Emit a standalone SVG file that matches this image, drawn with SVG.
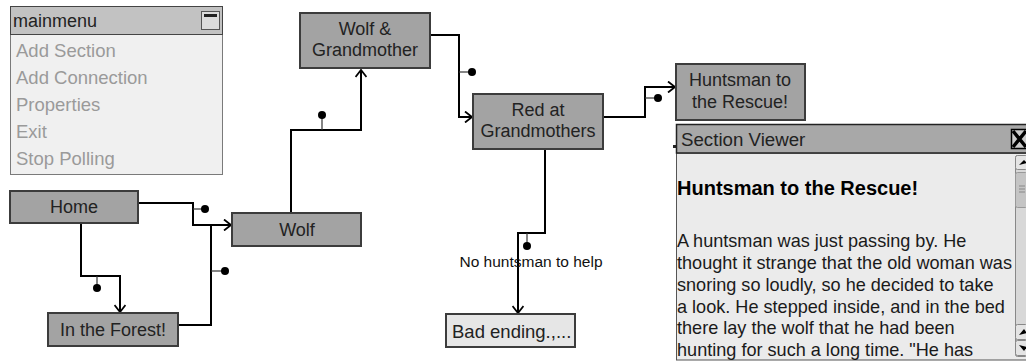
<svg xmlns="http://www.w3.org/2000/svg" width="1026" height="363" viewBox="0 0 1026 363">
  <style>
    .node rect { fill: #a3a3a3; stroke: #3c3c3c; stroke-width: 2; }
    .node text { font-family: "Liberation Sans", Arial, sans-serif; font-size: 18px; fill: #222; text-anchor: middle; }
    .wire { fill: none; stroke: #000; stroke-width: 2; }
    .stub { fill: none; stroke: #333; stroke-width: 1.2; }
    .dot { fill: #000; }
    .menu-item { font-family: "Liberation Sans", Arial, sans-serif; font-size: 18.5px; fill: #9a9a9a; }
    .body { font-family: "Liberation Sans", Arial, sans-serif; font-size: 18.1px; fill: #1a1a1a; }
  </style>
  <defs>
    <marker id="arrow" markerWidth="12" markerHeight="12" refX="9" refY="6" orient="auto" markerUnits="userSpaceOnUse">
      <polyline points="2,0.5 9,6 2,11.5" fill="none" stroke="#000" stroke-width="1.8"/>
    </marker>
  </defs>

  <rect width="1026" height="363" fill="#fff"/>

  <!-- main menu panel -->
  <g id="mainmenu">
    <rect x="10.5" y="6.5" width="212" height="168" fill="#f0f0f0" stroke="#7a7a7a"/>
    <rect x="10.5" y="6.5" width="212" height="28" fill="#c2c2c2" stroke="#444"/>
    <text x="13" y="27" font-family="Liberation Sans, Arial, sans-serif" font-size="18" fill="#222">mainmenu</text>
    <rect x="201.5" y="11.5" width="18" height="18" fill="#dcdcdc" stroke="#555"/>
    <rect x="204" y="14" width="13" height="3" fill="#222"/>
    <text class="menu-item" x="16" y="57">Add Section</text>
    <text class="menu-item" x="16" y="84">Add Connection</text>
    <text class="menu-item" x="16" y="111">Properties</text>
    <text class="menu-item" x="16" y="138">Exit</text>
    <text class="menu-item" x="16" y="165">Stop Polling</text>
  </g>

  <!-- connectors -->
  <g id="connectors">
    <!-- Home -> Wolf -->
    <polyline class="wire" points="138,203 193,203 193,225 231,225" marker-end="url(#arrow)"/>
    <line class="stub" x1="193" y1="209" x2="204" y2="209"/>
    <circle class="dot" cx="205" cy="209" r="4"/>
    <!-- Home -> In the Forest! -->
    <polyline class="wire" points="81,223 81,276 120,276 120,312" marker-end="url(#arrow)"/>
    <line class="stub" x1="97" y1="276" x2="97" y2="287"/>
    <circle class="dot" cx="97" cy="288" r="4"/>
    <!-- In the Forest! -> Wolf -->
    <polyline class="wire" points="178,325 211,325 211,225"/>
    <line class="stub" x1="211" y1="271" x2="223" y2="271"/>
    <circle class="dot" cx="225" cy="271" r="4"/>
    <!-- Wolf -> Wolf & Grandmother -->
    <polyline class="wire" points="291,213 291,130 361,130 361,70" marker-end="url(#arrow)"/>
    <line class="stub" x1="322" y1="130" x2="322" y2="117"/>
    <circle class="dot" cx="322" cy="115" r="4"/>
    <!-- Wolf & Grandmother -> Red at Grandmothers -->
    <polyline class="wire" points="430,35 459,35 459,117 472,117" marker-end="url(#arrow)"/>
    <line class="stub" x1="459" y1="72" x2="470" y2="72"/>
    <circle class="dot" cx="472" cy="72" r="4"/>
    <!-- Red at Grandmothers -> Huntsman to the Rescue! -->
    <polyline class="wire" points="603,117 645,117 645,87 675,87" marker-end="url(#arrow)"/>
    <line class="stub" x1="645" y1="98" x2="656" y2="98"/>
    <circle class="dot" cx="658" cy="98" r="4"/>
    <!-- Red at Grandmothers -> Bad ending -->
    <polyline class="wire" points="545,149 545,233 518,233 518,313" marker-end="url(#arrow)"/>
    <line class="stub" x1="527" y1="233" x2="527" y2="244"/>
    <circle class="dot" cx="527" cy="246" r="4"/>
    <text x="531" y="267" font-family="Liberation Sans, Arial, sans-serif" font-size="15.5" fill="#111" text-anchor="middle">No huntsman to help</text>
  </g>

  <g id="home" class="node">
    <rect x="10" y="191" width="128" height="32"/>
    <text x="74" y="213">Home</text>
  </g>
  <g id="wolf" class="node">
    <rect x="232" y="213" width="129" height="33"/>
    <text x="297" y="236">Wolf</text>
  </g>
  <g id="forest" class="node">
    <rect x="48" y="313" width="130" height="33"/>
    <text x="113" y="336">In the Forest!</text>
  </g>
  <g id="wolf-grandmother" class="node">
    <rect x="300" y="13" width="130" height="55"/>
    <text x="365" y="35">Wolf &amp;</text>
    <text x="365" y="56">Grandmother</text>
  </g>
  <g id="red-grandmothers" class="node">
    <rect x="473" y="94" width="130" height="55"/>
    <text x="538" y="116">Red at</text>
    <text x="538" y="137">Grandmothers</text>
  </g>
  <g id="huntsman" class="node">
    <rect x="676" y="64" width="129" height="56"/>
    <text x="740" y="86">Huntsman to</text>
    <text x="740" y="108">the Rescue!</text>
  </g>
  <g id="bad-ending" class="node">
    <rect x="446" y="314" width="129" height="33" style="fill:#e6e6e6"/>
    <text x="452" y="338" style="text-anchor:start;font-size:18.5px">Bad ending.,...</text>
  </g>

  <!-- section viewer window -->
  <g id="section-viewer">
    <rect x="673" y="145" width="3" height="3" fill="#222"/>
    <rect x="676.5" y="153" width="355" height="207" fill="#ebebeb" stroke="#555"/>
    <rect x="676.5" y="124.5" width="355" height="28.5" fill="#a8a8a8" stroke="#222" stroke-width="1.5"/>
    <text x="681" y="146" font-family="Liberation Sans, Arial, sans-serif" font-size="18.7" fill="#222">Section Viewer</text>
    <rect x="1011.5" y="129.5" width="16" height="19" fill="#ccc" stroke="#000" stroke-width="1.5"/>
    <path d="M1013,131 L1026,147 M1026,131 L1013,147" stroke="#000" stroke-width="3.5"/>
    <!-- scrollbar -->
    <rect x="1015.5" y="155.5" width="12" height="201" fill="#d8d8d8" stroke="#888" rx="2"/>
    <rect x="1015.5" y="155.5" width="12" height="14" fill="#e4e4e4" stroke="#888" rx="2"/>
    <path d="M1019,165 L1024,160 L1027,163" fill="#000"/>
    <rect x="1015.5" y="172.5" width="12" height="35" fill="#c4c4c4" stroke="#999" rx="2"/>
    <path d="M1019,186 h6 M1019,189 h6 M1019,192 h6" stroke="#888" stroke-width="1"/>
    <rect x="1015.5" y="324.5" width="12" height="15" fill="#e4e4e4" stroke="#888" rx="2"/>
    <path d="M1019,335 L1024,329 L1027,333" fill="#000"/>
    <rect x="1015.5" y="340.5" width="12" height="15" fill="#e4e4e4" stroke="#888" rx="2"/>
    <path d="M1019,345 L1024,351 L1027,347" fill="#000"/>
    <text x="677" y="195" font-family="Liberation Sans, Arial, sans-serif" font-size="20" font-weight="bold" fill="#000">Huntsman to the Rescue!</text>
    <text class="body" x="677" y="247">A huntsman was just passing by. He</text>
    <text class="body" x="677" y="269">thought it strange that the old woman was</text>
    <text class="body" x="677" y="291">snoring so loudly, so he decided to take</text>
    <text class="body" x="677" y="313">a look. He stepped inside, and in the bed</text>
    <text class="body" x="677" y="334">there lay the wolf that he had been</text>
    <text class="body" x="677" y="356">hunting for such a long time. "He has</text>
  </g>
</svg>
